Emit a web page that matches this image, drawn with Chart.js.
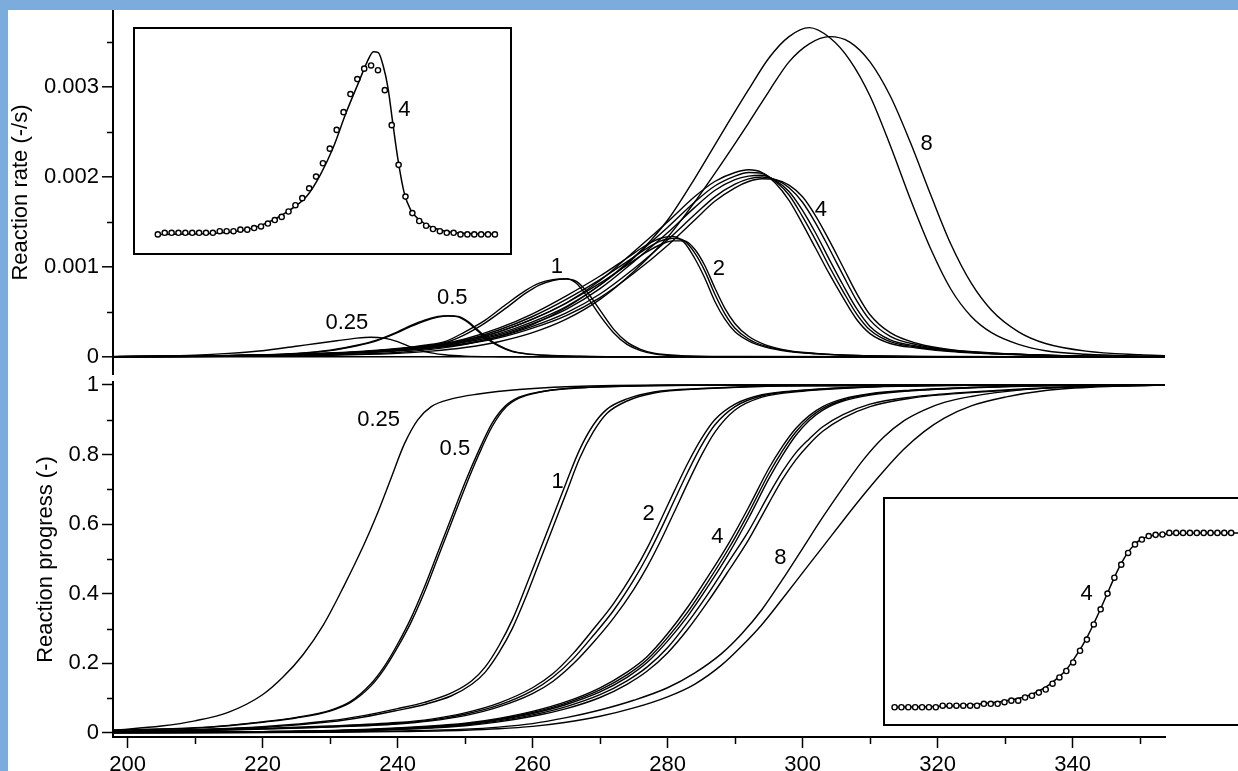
<!DOCTYPE html>
<html>
<head>
<meta charset="utf-8">
<script src="https://cdn.jsdelivr.net/npm/chart.js@4.4.1/dist/chart.umd.min.js"></script>
<style>
html, body { margin: 0; padding: 0; overflow: hidden; }
body { width: 1238px; height: 771px; background: #7cacdc; position: relative; }
#sheet { position: absolute; left: 8px; top: 10px; width: 1230px; height: 761px; background: #fff; }
.box { position: absolute; }
#rateBox { left: 8px; top: 10px; width: 1230px; height: 365px; }
#progBox { left: 8px; top: 375px; width: 1230px; height: 396px; }
#rateInsetBox { left: 133px; top: 27px; width: 379px; height: 228px; }
#progInsetBox { left: 883px; top: 497px; width: 380px; height: 229px; }
</style>
</head>
<body>
<div id="sheet"></div>
<div class="box" id="rateBox"><canvas id="rateChart"></canvas></div>
<div class="box" id="progBox"><canvas id="progChart"></canvas></div>
<div class="box" id="rateInsetBox"><canvas id="rateInset"></canvas></div>
<div class="box" id="progInsetBox"><canvas id="progInset"></canvas></div>
<script>
// axis ticks
const tempTicks = [200, 220, 240, 260, 280, 300, 320, 340];
const tempTickLabels = ['200', '220', '240', '260', '280', '300', '320', '340'];
const tempMinorTicks = [210, 230, 250, 270, 290, 310, 330, 350];
// rate values are in 10^-3 /s
const rateTicks = [0, 1, 2, 3];
const rateTickLabels = ['0', '0.001', '0.002', '0.003'];
const rateMinorTicks = [0.5, 1.5, 2.5, 3.5];
const progTicks = [0, 0.2, 0.4, 0.6, 0.8, 1];
const progTickLabels = ['0', '0.2', '0.4', '0.6', '0.8', '1'];
const progMinorTicks = [0.1, 0.3, 0.5, 0.7, 0.9];

// curve labels (heating rates)
const heatLabels = ['0.25', '0.5', '1', '2', '4', '8'];
const rateLabelT = [232.5, 248.1, 263.6, 287.6, 302.7, 318.4];
const rateLabelR = [0.38, 0.66, 1.0, 0.98, 1.63, 2.37];
const progLabelT = [237.2, 248.5, 263.7, 277.2, 287.4, 296.7];
const progLabelA = [0.901, 0.816, 0.722, 0.629, 0.564, 0.502];

// ---- reaction rate (top panel) ----
const tRate025 = [198, 205, 210, 215, 220, 225, 228, 231, 234, 236, 238, 240, 242, 244, 247, 250, 255, 265, 354];
const rate025 = [0.005, 0.01, 0.02, 0.04, 0.07, 0.12, 0.15, 0.18, 0.21, 0.22, 0.21, 0.17, 0.11, 0.06, 0.025, 0.01, 0.003, 0, 0];

const tRate05 = [198, 210, 220, 225, 230, 234, 237, 240, 242, 244, 246, 247.5, 249, 250.5, 252, 253.5, 255, 257, 259, 262, 267, 275, 354];
const rate05a = [0.004, 0.01, 0.025, 0.04, 0.075, 0.13, 0.19, 0.28, 0.35, 0.41, 0.45, 0.46, 0.445, 0.38, 0.28, 0.19, 0.12, 0.06, 0.035, 0.018, 0.007, 0.002, 0];
const rate05b = [0.004, 0.009, 0.023, 0.038, 0.071, 0.125, 0.182, 0.27, 0.34, 0.4, 0.443, 0.456, 0.45, 0.39, 0.293, 0.2, 0.13, 0.065, 0.037, 0.019, 0.008, 0.002, 0];

const tRate1 = [198, 210, 220, 230, 235, 240, 244, 247, 250, 253, 256, 259, 261, 263, 265, 266.5, 268, 270, 272, 274, 276, 278, 282, 290, 354];
const rate1a = [0.003, 0.008, 0.02, 0.04, 0.06, 0.09, 0.13, 0.17, 0.28, 0.41, 0.58, 0.74, 0.82, 0.86, 0.87, 0.82, 0.68, 0.46, 0.27, 0.14, 0.07, 0.035, 0.012, 0.004, 0];
const rate1b = [0.003, 0.007, 0.018, 0.037, 0.055, 0.083, 0.12, 0.158, 0.25, 0.38, 0.54, 0.71, 0.8, 0.85, 0.865, 0.84, 0.73, 0.52, 0.31, 0.165, 0.085, 0.042, 0.015, 0.005, 0];

const tRate2 = [198, 210, 220, 230, 240, 245, 250, 255, 260, 265, 270, 274, 277, 279, 280.8, 282.5, 284, 285.5, 287, 288.5, 290, 292, 294.5, 298, 302, 308, 320, 354];
const rate2a = [0.003, 0.01, 0.02, 0.04, 0.08, 0.12, 0.2, 0.32, 0.48, 0.68, 0.9, 1.1, 1.25, 1.32, 1.34, 1.27, 1.1, 0.88, 0.62, 0.42, 0.28, 0.18, 0.11, 0.06, 0.035, 0.015, 0.004, 0];
const rate2b = [0.003, 0.009, 0.018, 0.037, 0.074, 0.11, 0.185, 0.3, 0.45, 0.64, 0.86, 1.06, 1.21, 1.29, 1.32, 1.29, 1.16, 0.96, 0.7, 0.48, 0.32, 0.2, 0.12, 0.065, 0.037, 0.016, 0.004, 0];
const rate2c = [0.003, 0.008, 0.016, 0.034, 0.068, 0.1, 0.17, 0.28, 0.42, 0.6, 0.82, 1.02, 1.17, 1.25, 1.29, 1.29, 1.2, 1.02, 0.77, 0.54, 0.37, 0.23, 0.135, 0.07, 0.04, 0.017, 0.005, 0];

const tRate4 = [198, 210, 220, 230, 235, 240, 245, 250, 255, 260, 265, 270, 275, 280, 284, 287, 290, 292, 294, 296, 298, 300, 302, 304, 306, 308, 310, 313, 317, 322, 330, 340, 354];
const rate4a = [0.004, 0.01, 0.022, 0.045, 0.065, 0.095, 0.13, 0.19, 0.28, 0.42, 0.6, 0.85, 1.17, 1.5, 1.78, 1.95, 2.05, 2.08, 2.05, 1.93, 1.74, 1.48, 1.2, 0.92, 0.66, 0.42, 0.26, 0.15, 0.1, 0.06, 0.03, 0.01, 0.003];
const rate4b = [0.004, 0.009, 0.02, 0.042, 0.06, 0.088, 0.12, 0.175, 0.26, 0.39, 0.56, 0.8, 1.11, 1.44, 1.72, 1.9, 2.01, 2.05, 2.04, 1.95, 1.8, 1.56, 1.29, 1.0, 0.73, 0.48, 0.3, 0.17, 0.11, 0.065, 0.032, 0.011, 0.003];
const rate4c = [0.004, 0.009, 0.019, 0.04, 0.057, 0.083, 0.115, 0.165, 0.245, 0.37, 0.53, 0.76, 1.06, 1.38, 1.66, 1.85, 1.97, 2.01, 2.02, 1.96, 1.84, 1.63, 1.37, 1.08, 0.8, 0.54, 0.34, 0.19, 0.12, 0.07, 0.034, 0.012, 0.003];
const rate4d = [0.003, 0.008, 0.017, 0.036, 0.052, 0.076, 0.105, 0.15, 0.225, 0.34, 0.49, 0.7, 0.98, 1.3, 1.58, 1.78, 1.92, 1.98, 2.0, 1.97, 1.88, 1.72, 1.48, 1.2, 0.91, 0.63, 0.41, 0.23, 0.135, 0.075, 0.036, 0.013, 0.004];
const rate4e = [0.003, 0.007, 0.016, 0.034, 0.049, 0.072, 0.1, 0.142, 0.212, 0.32, 0.46, 0.66, 0.93, 1.24, 1.52, 1.73, 1.88, 1.95, 1.98, 1.97, 1.91, 1.78, 1.56, 1.29, 1.0, 0.71, 0.47, 0.27, 0.15, 0.08, 0.038, 0.014, 0.004];

const tRate8 = [198, 210, 220, 230, 240, 245, 250, 255, 260, 265, 270, 275, 280, 284, 288, 292, 295, 298, 301, 304, 307, 310, 313, 316, 319, 322, 325, 328, 332, 336, 342, 350, 354];
const rate8a = [0.003, 0.006, 0.012, 0.025, 0.05, 0.085, 0.14, 0.23, 0.36, 0.55, 0.8, 1.1, 1.52, 1.98, 2.48, 2.97, 3.32, 3.56, 3.66, 3.55, 3.3, 2.9, 2.35, 1.75, 1.2, 0.75, 0.45, 0.27, 0.14, 0.07, 0.03, 0.01, 0.006];
const rate8b = [0.003, 0.005, 0.01, 0.02, 0.04, 0.065, 0.105, 0.17, 0.27, 0.42, 0.64, 0.95, 1.33, 1.72, 2.15, 2.6, 2.95, 3.28, 3.48, 3.56, 3.5, 3.28, 2.9, 2.38, 1.8, 1.25, 0.82, 0.52, 0.28, 0.15, 0.065, 0.025, 0.015];

// ---- reaction progress (bottom panel) ----
const tProg025 = [198, 205, 210, 215, 220, 223, 226, 229, 232, 235, 237, 239, 241, 243, 245, 248, 252, 258, 265, 280, 354];
const prog025 = [0.008, 0.02, 0.035, 0.06, 0.11, 0.16, 0.225, 0.31, 0.42, 0.54, 0.63, 0.73, 0.83, 0.9, 0.938, 0.96, 0.974, 0.987, 0.995, 1.0, 1.0];

const tProg05 = [198, 210, 215, 220, 225, 230, 233, 236, 238, 240, 242, 244, 246, 248, 250, 252, 254, 256, 258, 261, 265, 275, 290, 354];
const prog05a = [0.008, 0.015, 0.022, 0.032, 0.045, 0.065, 0.09, 0.14, 0.19, 0.255, 0.33, 0.42, 0.52, 0.62, 0.72, 0.81, 0.89, 0.94, 0.965, 0.98, 0.99, 0.997, 1.0, 1.0];
const prog05b = [0.008, 0.014, 0.021, 0.031, 0.043, 0.063, 0.087, 0.134, 0.183, 0.246, 0.318, 0.405, 0.505, 0.605, 0.705, 0.798, 0.88, 0.935, 0.962, 0.979, 0.989, 0.997, 1.0, 1.0];

const tProg1 = [198, 210, 220, 230, 235, 240, 244, 248, 251, 253, 255, 257, 259, 261, 263, 265, 267, 269, 271, 274, 278, 285, 300, 354];
const prog1a = [0.005, 0.01, 0.018, 0.035, 0.05, 0.07, 0.088, 0.115, 0.15, 0.19, 0.25, 0.325, 0.42, 0.52, 0.62, 0.72, 0.815, 0.885, 0.93, 0.96, 0.98, 0.99, 0.998, 1.0];
const prog1b = [0.004, 0.009, 0.016, 0.032, 0.046, 0.065, 0.082, 0.107, 0.14, 0.175, 0.23, 0.3, 0.39, 0.49, 0.59, 0.69, 0.79, 0.865, 0.918, 0.954, 0.977, 0.989, 0.998, 1.0];

const tProg2 = [198, 210, 220, 230, 240, 245, 250, 255, 260, 263, 266, 269, 272, 275, 277, 279, 281, 283, 285, 287, 290, 294, 300, 310, 330, 354];
const prog2a = [0.004, 0.008, 0.013, 0.02, 0.03, 0.04, 0.058, 0.086, 0.13, 0.17, 0.228, 0.298, 0.372, 0.462, 0.532, 0.612, 0.695, 0.775, 0.845, 0.9, 0.945, 0.972, 0.985, 0.995, 1.0, 1.0];
const prog2b = [0.004, 0.007, 0.012, 0.018, 0.028, 0.037, 0.054, 0.08, 0.122, 0.16, 0.213, 0.28, 0.352, 0.44, 0.508, 0.585, 0.668, 0.75, 0.825, 0.885, 0.938, 0.969, 0.984, 0.995, 1.0, 1.0];
const prog2c = [0.003, 0.006, 0.011, 0.017, 0.026, 0.035, 0.05, 0.075, 0.113, 0.148, 0.198, 0.26, 0.33, 0.413, 0.478, 0.553, 0.635, 0.718, 0.797, 0.864, 0.928, 0.965, 0.982, 0.994, 1.0, 1.0];

const tProg4 = [198, 220, 235, 245, 250, 255, 260, 265, 270, 274, 277, 280, 283, 286, 289, 292, 295, 297, 299, 301, 303, 306, 310, 316, 325, 340, 354];
const prog4a = [0.002, 0.004, 0.01, 0.02, 0.028, 0.042, 0.062, 0.09, 0.13, 0.175, 0.22, 0.285, 0.362, 0.45, 0.543, 0.648, 0.76, 0.823, 0.875, 0.912, 0.938, 0.96, 0.975, 0.985, 0.993, 0.999, 1.0];
const prog4b = [0.002, 0.004, 0.009, 0.019, 0.026, 0.04, 0.059, 0.086, 0.124, 0.167, 0.211, 0.274, 0.348, 0.435, 0.528, 0.632, 0.745, 0.81, 0.865, 0.905, 0.933, 0.957, 0.973, 0.984, 0.993, 0.999, 1.0];
const prog4c = [0.002, 0.004, 0.009, 0.018, 0.025, 0.038, 0.056, 0.082, 0.118, 0.16, 0.203, 0.264, 0.336, 0.421, 0.513, 0.617, 0.73, 0.797, 0.855, 0.898, 0.928, 0.954, 0.971, 0.983, 0.992, 0.999, 1.0];
const prog4d = [0.002, 0.003, 0.008, 0.016, 0.023, 0.035, 0.052, 0.076, 0.11, 0.15, 0.19, 0.245, 0.318, 0.4, 0.49, 0.58, 0.685, 0.75, 0.805, 0.845, 0.88, 0.915, 0.945, 0.965, 0.98, 0.995, 1.0];
const prog4e = [0.002, 0.003, 0.007, 0.014, 0.021, 0.032, 0.048, 0.07, 0.102, 0.14, 0.178, 0.23, 0.298, 0.378, 0.465, 0.555, 0.66, 0.728, 0.785, 0.83, 0.867, 0.905, 0.938, 0.962, 0.978, 0.994, 1.0];

const tProg8 = [198, 230, 240, 250, 255, 260, 265, 270, 275, 280, 284, 288, 291, 294, 297, 300, 303, 306, 309, 312, 315, 318, 321, 325, 330, 336, 344, 354];
const prog8a = [0.0, 0.003, 0.006, 0.011, 0.017, 0.027, 0.044, 0.066, 0.094, 0.13, 0.172, 0.228, 0.285, 0.355, 0.44, 0.53, 0.62, 0.705, 0.785, 0.85, 0.897, 0.928, 0.95, 0.967, 0.981, 0.991, 0.997, 1.0];
const prog8b = [0.0, 0.002, 0.004, 0.008, 0.012, 0.019, 0.031, 0.048, 0.072, 0.104, 0.14, 0.195, 0.25, 0.312, 0.385, 0.46, 0.535, 0.61, 0.683, 0.752, 0.815, 0.866, 0.905, 0.94, 0.965, 0.984, 0.995, 1.0];

// ---- insets: heating rate 4, model line vs measured points ----
const insetT = [250, 252, 254, 256, 258, 260, 262, 264, 266, 268, 270, 272, 274, 276, 278, 280, 282, 284, 286, 288,
  290, 292, 294, 296, 298, 300, 302, 304, 306, 308, 310, 312, 314, 316, 318, 320, 322, 324, 326, 328,
  330, 332, 334, 336, 338, 340, 342, 344, 346, 348];
const insetRatePts = [0, 0.018, 0.018, 0.018, 0.018, 0.018, 0.018, 0.018, 0.018, 0.036, 0.036, 0.036, 0.054, 0.054, 0.072, 0.09, 0.123, 0.163, 0.199, 0.26,
  0.332, 0.412, 0.524, 0.657, 0.809, 0.975, 1.188, 1.39, 1.596, 1.766, 1.885, 1.921, 1.867, 1.64, 1.242, 0.791, 0.43, 0.242, 0.152, 0.098,
  0.061, 0.036, 0.018, 0.018, 0, 0, 0, 0, 0, 0];
const insetRateLineT = [250.1, 268.9, 278.3, 287.7, 293.4, 297.2, 300.9, 304.7, 308.5, 310.8, 312.7, 314.1, 315.5, 316.9, 318.3, 319.8, 321.6, 323.5, 325.9, 329.2, 333.9, 339.5, 348];
const insetRateLine = [0, 0.018, 0.08, 0.26, 0.44, 0.675, 0.98, 1.38, 1.74, 1.957, 2.077, 2.066, 1.92, 1.67, 1.27, 0.856, 0.477, 0.278, 0.17, 0.09, 0.033, 0.011, 0.004];
const insetProgPts = [0, 0, 0, 0, 0, 0, 0, 0.009, 0.009, 0.009, 0.009, 0.009, 0.009, 0.02, 0.02, 0.02, 0.029, 0.038, 0.038, 0.056,
  0.066, 0.084, 0.102, 0.135, 0.171, 0.208, 0.257, 0.324, 0.388, 0.475, 0.562, 0.652, 0.743, 0.818, 0.885, 0.934, 0.962, 0.982, 0.989, 0.991,
  1, 1, 1, 1, 1, 1, 1, 1, 1, 1];
const insetProgLineT = [249.8, 262, 272, 280, 286, 290, 294, 297, 300, 303, 306, 308, 310, 312, 314, 316, 318, 320, 322, 325, 330, 338, 355];
const insetProgLine = [0, 0.004, 0.014, 0.03, 0.05, 0.075, 0.115, 0.16, 0.215, 0.3, 0.4, 0.48, 0.565, 0.655, 0.745, 0.825, 0.89, 0.935, 0.965, 0.985, 0.995, 1.0, 1.0];

const FONT = '"Liberation Sans", Arial, Helvetica, sans-serif';
Chart.defaults.font.family = FONT;
Chart.defaults.font.size = 22;
Chart.defaults.color = '#000';

function curve(ts, vs) {
  return ts.map((t, i) => ({ x: t, y: vs[i] }));
}

const lineStyle = {
  borderColor: '#000',
  borderWidth: 1.4,
  pointRadius: 0,
  fill: false,
  cubicInterpolationMode: 'monotone'
};

const rateSeries = [
  [tRate025, rate025], [tRate05, rate05a], [tRate05, rate05b], [tRate1, rate1a], [tRate1, rate1b],
  [tRate2, rate2a], [tRate2, rate2b], [tRate2, rate2c],
  [tRate4, rate4a], [tRate4, rate4b], [tRate4, rate4c], [tRate4, rate4d], [tRate4, rate4e],
  [tRate8, rate8a], [tRate8, rate8b]
];
const progSeries = [
  [tProg025, prog025], [tProg05, prog05a], [tProg05, prog05b], [tProg1, prog1a], [tProg1, prog1b],
  [tProg2, prog2a], [tProg2, prog2b], [tProg2, prog2c],
  [tProg4, prog4a], [tProg4, prog4b], [tProg4, prog4c], [tProg4, prog4d], [tProg4, prog4e],
  [tProg8, prog8a], [tProg8, prog8b]
];

// text labels placed at data coordinates
const curveLabels = {
  id: 'curveLabels',
  afterDatasetsDraw(chart, args, opts) {
    const { ctx } = chart;
    const x = chart.scales.x, y = chart.scales.y;
    ctx.save();
    ctx.font = '22px ' + FONT;
    ctx.fillStyle = '#000';
    ctx.textAlign = 'center';
    ctx.textBaseline = 'middle';
    opts.text.forEach((t, i) => ctx.fillText(t, x.getPixelForValue(opts.xs[i]), y.getPixelForValue(opts.ys[i])));
    ctx.restore();
  }
};

// short unlabelled ticks between the labelled ones
const minorTicks = {
  id: 'minorTicks',
  afterDraw(chart, args, opts) {
    const { ctx, chartArea } = chart;
    ctx.save();
    ctx.strokeStyle = '#000';
    ctx.lineWidth = 1.5;
    ctx.beginPath();
    (opts.x || []).forEach(v => {
      const px = Math.round(chart.scales.x.getPixelForValue(v)) + 0.5;
      ctx.moveTo(px, chartArea.bottom);
      ctx.lineTo(px, chartArea.bottom + 7);
    });
    (opts.y || []).forEach(v => {
      const py = Math.round(chart.scales.y.getPixelForValue(v)) + 0.5;
      ctx.moveTo(chartArea.left - 6, py);
      ctx.lineTo(chartArea.left, py);
    });
    ctx.stroke();
    ctx.restore();
  }
};

const insetFrame = {
  id: 'insetFrame',
  beforeDraw(chart) {
    const { ctx, width, height } = chart;
    ctx.save();
    ctx.fillStyle = '#fff';
    ctx.fillRect(0, 0, width, height);
    ctx.restore();
  },
  afterDraw(chart) {
    const { ctx, width, height } = chart;
    ctx.save();
    ctx.strokeStyle = '#000';
    ctx.lineWidth = 2;
    ctx.strokeRect(1, 1, width - 2, height - 2);
    ctx.restore();
  }
};

const tickGrid = { drawOnChartArea: false, drawTicks: true, tickLength: 11, tickColor: '#000', tickWidth: 1.5 };
const axisBorder = { display: true, color: '#000', width: 2 };
const noTips = { legend: { display: false }, tooltip: { enabled: false } };

new Chart(document.getElementById('rateChart'), {
  type: 'line',
  data: { datasets: rateSeries.map(([ts, vs]) => ({ ...lineStyle, data: curve(ts, vs) })) },
  options: {
    animation: false,
    responsive: true,
    maintainAspectRatio: false,
    layout: { padding: { left: 0, right: 73, top: 0, bottom: 0 } },
    plugins: {
      ...noTips,
      curveLabels: { text: heatLabels, xs: rateLabelT, ys: rateLabelR },
      minorTicks: { y: rateMinorTicks }
    },
    scales: {
      x: { type: 'linear', display: false, min: 197.85, max: 353.7 },
      y: {
        type: 'linear', min: -0.2, max: 3.856,
        afterBuildTicks: s => { s.ticks = rateTicks.map(v => ({ value: v })); },
        afterFit: s => { s.width = 105; s.paddingTop = 0; s.paddingBottom = 0; },
        ticks: { callback: (v, i) => rateTickLabels[i], padding: 3, color: '#000' },
        grid: {
          ...tickGrid,
          drawOnChartArea: true,
          color: c => (c.tick && c.tick.value === 0) ? '#000' : 'rgba(0,0,0,0)',
          lineWidth: 1.6
        },
        border: axisBorder,
        title: { display: true, text: 'Reaction rate (-/s)', color: '#000', padding: 0 }
      }
    }
  },
  plugins: [curveLabels, minorTicks]
});

new Chart(document.getElementById('progChart'), {
  type: 'line',
  data: { datasets: progSeries.map(([ts, vs]) => ({ ...lineStyle, data: curve(ts, vs) })) },
  options: {
    animation: false,
    responsive: true,
    maintainAspectRatio: false,
    layout: { padding: { left: 25, right: 73, top: 7, bottom: 0 } },
    plugins: {
      ...noTips,
      curveLabels: { text: heatLabels, xs: progLabelT, ys: progLabelA },
      minorTicks: { x: tempMinorTicks, y: progMinorTicks }
    },
    scales: {
      x: {
        type: 'linear', position: 'bottom', min: 197.85, max: 353.7,
        afterBuildTicks: s => { s.ticks = tempTicks.map(v => ({ value: v })); },
        afterFit: s => { s.height = 34; s.paddingLeft = 0; s.paddingRight = 0; },
        ticks: { callback: (v, i) => tempTickLabels[i], padding: 4, maxRotation: 0, autoSkip: false, color: '#000' },
        grid: tickGrid,
        border: axisBorder
      },
      y: {
        type: 'linear', min: -0.0115, max: 1.0086,
        afterBuildTicks: s => { s.ticks = progTicks.map(v => ({ value: v })); },
        afterFit: s => { s.width = 80; s.paddingTop = 0; s.paddingBottom = 0; },
        ticks: { callback: (v, i) => progTickLabels[i], padding: 3, color: '#000' },
        grid: tickGrid,
        border: axisBorder,
        title: { display: true, text: 'Reaction progress (-)', color: '#000', padding: 0 }
      }
    }
  },
  plugins: [curveLabels, minorTicks]
});

function insetChart(id, lineT, lineV, ptsV, xRange, yRange, label) {
  return new Chart(document.getElementById(id), {
    type: 'line',
    data: {
      datasets: [
        {
          data: curve(insetT, ptsV), showLine: false, order: 0,
          pointStyle: 'circle', pointRadius: 2.6, pointBorderWidth: 1.4,
          pointBorderColor: '#000', pointBackgroundColor: '#fff'
        },
        { ...lineStyle, borderWidth: 1.5, order: 1, data: curve(lineT, lineV) }
      ]
    },
    options: {
      animation: false,
      responsive: true,
      maintainAspectRatio: false,
      layout: { padding: 0 },
      plugins: { ...noTips, curveLabels: label },
      scales: {
        x: { type: 'linear', display: false, min: xRange[0], max: xRange[1] },
        y: { type: 'linear', display: false, min: yRange[0], max: yRange[1] }
      }
    },
    plugins: [insetFrame, curveLabels]
  });
}

insetChart('rateInset', insetRateLineT, insetRateLine, insetRatePts, [244.35, 351.4], [-0.173, 2.297],
  { text: ['4'], xs: [321.7], ys: [1.42] });
insetChart('progInset', insetProgLineT, insetProgLine, insetProgPts, [248.2, 355.7], [-0.0765, 1.175],
  { text: ['4'], xs: [305.9], ys: [0.65] });
</script>
</body>
</html>
